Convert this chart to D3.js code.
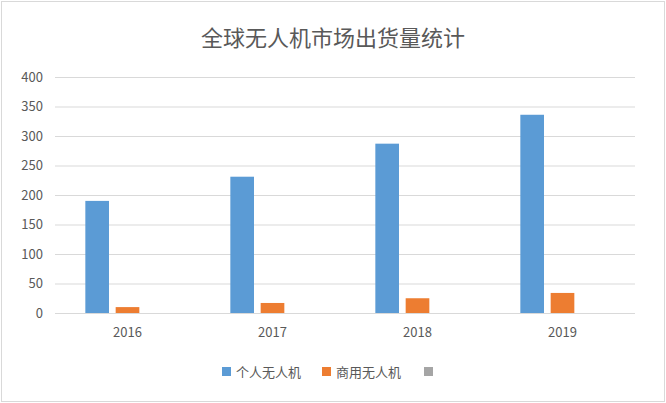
<!DOCTYPE html>
<html>
<head>
<meta charset="utf-8">
<script src="https://cdn.jsdelivr.net/npm/d3@7"></script>
<style>
  body { margin: 0; background: #fff; }
  text { font-family: "Noto Sans CJK SC", "Noto Sans", sans-serif; fill: #595959; }
</style>
</head>
<body>
<div id="chart"></div>
<script>
var years = ["2016", "2017", "2018", "2019"];
var seriesNames = ["个人无人机", "商用无人机", ""];
var personal = [190, 231, 287, 336];
var commercial = [10, 17, 25, 34];
var third = [0, 0, 0, 0];
var yTicks = [0, 50, 100, 150, 200, 250, 300, 350, 400];
var colors = ["#5b9bd5", "#ed7d31", "#a5a5a5"];

var W = 666, H = 403;
var margin = {left: 55, right: 31, top: 77, bottom: 90};
var width = W - margin.left - margin.right,
    height = H - margin.top - margin.bottom;

var svg = d3.select("#chart").append("svg")
  .attr("width", W).attr("height", H);

svg.append("rect")
  .attr("x", 1.5).attr("y", 1.5).attr("width", W - 3).attr("height", H - 3)
  .attr("fill", "#fff").attr("stroke", "#d9d9d9");

svg.append("text")
  .attr("x", W / 2).attr("y", 46)
  .attr("text-anchor", "middle")
  .style("font-size", "22px")
  .text("全球无人机市场出货量统计");

var g = svg.append("g").attr("transform", "translate(" + margin.left + "," + margin.top + ")");

var x = d3.scaleBand().domain(years).range([0, width]);
var y = d3.scaleLinear().domain([0, 400]).range([height, 0]);

// gridlines
g.selectAll(".grid").data(yTicks).enter().append("line")
  .attr("x1", 0).attr("x2", width)
  .attr("y1", function(d) { return y(d) + 0.5; })
  .attr("y2", function(d) { return y(d) + 0.5; })
  .attr("stroke", "#d9d9d9");

// y labels
g.selectAll(".ylab").data(yTicks).enter().append("text")
  .attr("x", -12).attr("y", function(d) { return y(d); })
  .attr("dy", "0.35em")
  .attr("text-anchor", "end")
  .style("font-size", "13px")
  .text(function(d) { return d; });

// x labels
g.selectAll(".xlab").data(years).enter().append("text")
  .attr("x", function(d) { return x(d) + x.bandwidth() / 2; })
  .attr("y", height + 24)
  .attr("text-anchor", "middle")
  .style("font-size", "13px")
  .text(function(d) { return d; });

var inner = d3.scaleBand().domain([0, 1, 2])
  .range([0, x.bandwidth()]).paddingInner(0.22).paddingOuter(1.0);

var series = [personal, commercial, third];
series.forEach(function(vals, si) {
  g.selectAll(".bar" + si).data(vals).enter().append("rect")
    .attr("x", function(d, i) { return x(years[i]) + inner(si); })
    .attr("width", inner.bandwidth())
    .attr("y", function(d) { return y(d); })
    .attr("height", function(d) { return height - y(d); })
    .attr("fill", colors[si]);
});

// legend
var legendX = [222, 322, 424];
var lg = svg.append("g");
seriesNames.forEach(function(name, i) {
  lg.append("rect").attr("x", legendX[i]).attr("y", 367)
    .attr("width", 9).attr("height", 9).attr("fill", colors[i]);
  lg.append("text").attr("x", legendX[i] + 14).attr("y", 372)
    .attr("dy", "0.35em").style("font-size", "13px").text(name);
});
</script>
</body>
</html>
